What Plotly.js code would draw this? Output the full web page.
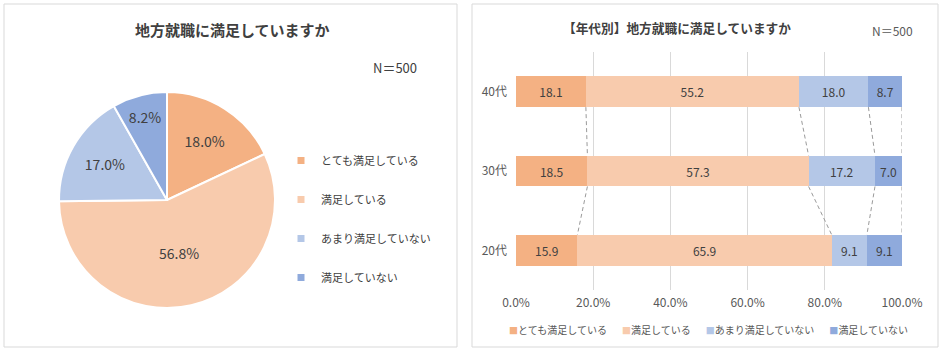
<!DOCTYPE html>
<html>
<head>
<meta charset="utf-8">
<script src="https://cdn.plot.ly/plotly-3.0.1.min.js"></script>
<style>html,body{margin:0;padding:0;background:#fff;overflow:hidden;}#chart{width:944px;height:355px;}</style>
</head>
<body>
<div id="chart"></div>
<script>
// ---- data ----
const seriesNames = ['とても満足している', '満足している', 'あまり満足していない', '満足していない'];
const seriesColors = ['#F4B183', '#F8CBAD', '#B4C7E7', '#8FAADC'];
const pieValues = [18.0, 56.8, 17.0, 8.2];
const ageGroups = ['20代', '30代', '40代'];
const age20 = [15.9, 65.9, 9.1, 9.1];
const age30 = [18.5, 57.3, 17.2, 7.0];
const age40 = [18.1, 55.2, 18.0, 8.7];
const xTickVals = [0, 20, 40, 60, 80, 100];
const xTickText = ['0.0%', '20.0%', '40.0%', '60.0%', '80.0%', '100.0%'];
const leftTitle = '地方就職に満足していますか';
const rightTitle = '【年代別】地方就職に満足していますか';
const sampleLabel = 'N＝500';

const FONT = '"Noto Sans CJK JP", "Noto Sans", sans-serif';
const TXT = '#404040';
const W = 944, H = 355;
const px = v => v / W;
const py = v => 1 - v / H;

const rows = [age20, age30, age40];
const barWidth = 0.39;
const traces = [];

// pie
traces.push({
  type: 'pie',
  labels: seriesNames,
  values: pieValues,
  sort: false,
  direction: 'clockwise',
  rotation: 0,
  marker: {colors: seriesColors, line: {color: '#ffffff', width: 2}},
  texttemplate: '%{value:.1f}%',
  textposition: 'inside',
  insidetextorientation: 'horizontal',
  textfont: {family: FONT, size: 14, color: TXT},
  showlegend: false,
  hoverinfo: 'label+value',
  domain: {x: [px(59), px(275)], y: [py(308), py(92)]}
});

// legend entries for pie (vertical legend)
seriesNames.forEach((n, i) => {
  traces.push({
    type: 'scatter', mode: 'markers', x: [null], y: [null],
    name: n, legend: 'legend', legendgroup: 'p' + i,
    marker: {symbol: 'square', size: 7, color: seriesColors[i]},
    xaxis: 'x', yaxis: 'y', hoverinfo: 'skip'
  });
});

// stacked bars
seriesNames.forEach((n, i) => {
  traces.push({
    type: 'bar', orientation: 'h',
    name: n,
    y: [0, 1, 2],
    x: rows.map(r => r[i]),
    width: barWidth,
    marker: {color: seriesColors[i], line: {width: 0}},
    texttemplate: '%{x:.1f}',
    textposition: 'inside',
    insidetextanchor: 'middle',
    constraintext: 'none',
    textangle: 0,
    textfont: {family: FONT, size: 12, color: TXT},
    showlegend: false,
    xaxis: 'x', yaxis: 'y'
  });
});

// series lines (dashed) between bars, at cumulative boundaries
const cum = r => { let s = 0; return r.map(v => (s += v)); };
const cums = rows.map(cum);
for (let k = 0; k < seriesNames.length; k++) {
  const xs = [], ys = [];
  for (let j = rows.length - 1; j > 0; j--) {
    xs.push(cums[j][k], cums[j - 1][k], null);
    ys.push(j - barWidth / 2, j - 1 + barWidth / 2, null);
  }
  traces.push({
    type: 'scatter', mode: 'lines', x: xs, y: ys,
    line: {color: '#9a9a9a', width: 1, dash: '4px,3px'},
    showlegend: false, hoverinfo: 'skip', xaxis: 'x', yaxis: 'y'
  });
}

// compact horizontal legend for the bar chart, as one line of text
const barLegendText = seriesNames.map((n, i) =>
  '<span style="color:' + seriesColors[i] + ';font-size:9px">■</span>' + n
).join('\u3000\u2002');

const layout = {
  width: W, height: H,
  margin: {l: 0, r: 0, t: 0, b: 0, autoexpand: false},
  paper_bgcolor: '#ffffff', plot_bgcolor: 'rgba(0,0,0,0)',
  barmode: 'stack',
  font: {family: FONT, color: TXT, size: 12},
  xaxis: {
    domain: [px(516), px(902)], range: [0, 100],
    tickvals: xTickVals, ticktext: xTickText,
    showgrid: true, gridcolor: '#d9d9d9', gridwidth: 1,
    zeroline: false, showline: false, ticks: '',
    tickfont: {family: FONT, size: 12, color: '#595959'},
    ticklabelstandoff: 4, fixedrange: true, automargin: false
  },
  yaxis: {
    domain: [py(290), py(52)], range: [-0.5, 2.5],
    tickvals: [0, 1, 2], ticktext: ageGroups,
    showgrid: false, zeroline: false, showline: false, ticks: '',
    tickfont: {family: FONT, size: 12, color: '#595959'},
    ticklabelstandoff: 8, fixedrange: true, automargin: false
  },
  legend: {
    x: px(281), y: py(146), xanchor: 'left', yanchor: 'top',
    orientation: 'v', traceorder: 'grouped', tracegroupgap: 20,
    font: {family: FONT, size: 11, color: TXT},
    itemwidth: 30, bgcolor: 'rgba(0,0,0,0)'
  },
  shapes: [
    {type: 'rect', xref: 'paper', yref: 'paper', x0: px(4), x1: px(457), y0: py(347), y1: py(4), line: {color: '#d9d9d9', width: 1}},
    {type: 'rect', xref: 'paper', yref: 'paper', x0: px(472), x1: px(938), y0: py(347), y1: py(4), line: {color: '#d9d9d9', width: 1}}
  ],
  annotations: [
    {text: '<b>' + leftTitle + '</b>', xref: 'paper', yref: 'paper', x: px(232), y: py(29), xanchor: 'center', yanchor: 'middle', showarrow: false, font: {family: FONT, size: 15, color: TXT}},
    {text: '<b>' + rightTitle + '</b>', xref: 'paper', yref: 'paper', x: px(677), y: py(27), xanchor: 'center', yanchor: 'middle', showarrow: false, font: {family: FONT, size: 12.7, color: TXT}},
    {text: sampleLabel, xref: 'paper', yref: 'paper', x: px(395), y: py(68), xanchor: 'center', yanchor: 'middle', showarrow: false, font: {family: FONT, size: 13, color: TXT}},
    {text: sampleLabel, xref: 'paper', yref: 'paper', x: px(892), y: py(31), xanchor: 'center', yanchor: 'middle', showarrow: false, font: {family: FONT, size: 12, color: '#595959'}},
    {text: barLegendText, xref: 'paper', yref: 'paper', x: px(708), y: py(329), xanchor: 'center', yanchor: 'middle', showarrow: false, font: {family: FONT, size: 10, color: '#595959'}}
  ]
};

Plotly.newPlot('chart', traces, layout, {displayModeBar: false, staticPlot: true});
</script>
</body>
</html>
